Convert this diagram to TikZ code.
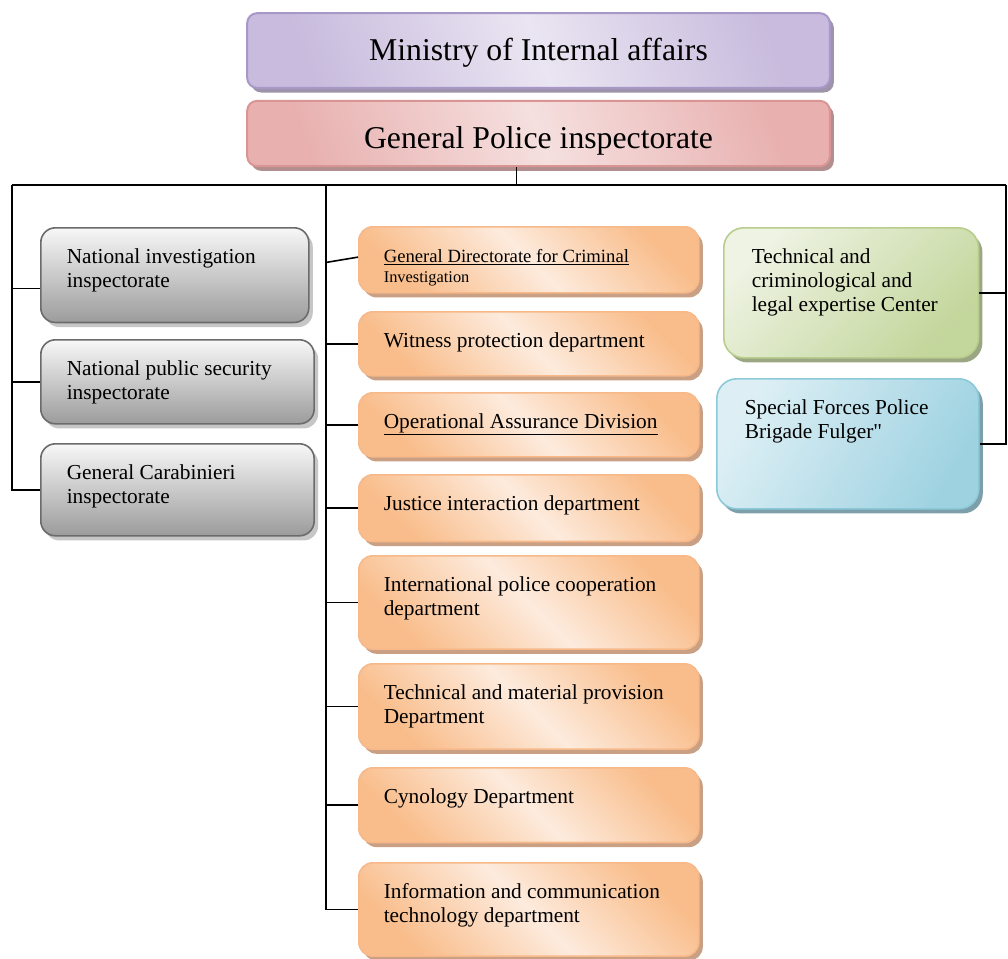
\documentclass[tikz,border=0pt]{standalone}
\usepackage{fontspec}
\setmainfont{Liberation Serif}
\usetikzlibrary{shadows}

\definecolor{orD}{HTML}{F9BD8B}
\definecolor{orL}{HTML}{FDEBDD}
\definecolor{orB}{HTML}{F7B98A}
\definecolor{orS}{HTML}{C9A084}
\definecolor{grB}{HTML}{6B6B6B}
\definecolor{grS}{HTML}{C6C6C6}
\definecolor{puD}{HTML}{C8BBDD}
\definecolor{puL}{HTML}{EAE5F2}
\definecolor{puB}{HTML}{A898C8}
\definecolor{puS}{HTML}{9D94AB}
\definecolor{reD}{HTML}{E8B1B0}
\definecolor{reL}{HTML}{F5E0DF}
\definecolor{reB}{HTML}{D99594}
\definecolor{reS}{HTML}{B38E8E}
\definecolor{gnD}{HTML}{C3D69B}
\definecolor{gnL}{HTML}{EEF3E3}
\definecolor{gnB}{HTML}{B9CD8D}
\definecolor{gnS}{HTML}{9BA683}
\definecolor{blD}{HTML}{9ED2E1}
\definecolor{blL}{HTML}{DDEFF5}
\definecolor{blB}{HTML}{8CC9D9}
\definecolor{blS}{HTML}{7C9FAA}

% text of a box: top aligned, width #1, height #2
\newcommand{\boxtext}[3]{\parbox[c][#2][t]{#1}{\raggedright\vspace*{14pt}\strut#3}}

\tikzset{
  unit/.style={draw, line width=1.2pt, inner ysep=0pt, anchor=north west,
    font=\fontsize{16}{18}\selectfont},
  head/.style={draw, line width=1.5pt, rounded corners=7.5pt, minimum width=437pt,
    inner ysep=2pt, text depth=5pt, font=\fontsize{23.8}{26}\selectfont},
  orangebox/.style={unit, rounded corners=10.5pt, inner xsep=18.75pt, draw=orB,
    left color=orD, right color=orD, middle color=orL, shading angle=135,
    drop shadow={shadow xshift=3pt, shadow yshift=-3.5pt, fill=orS, opacity=1}},
  greybox/.style={unit, rounded corners=11pt, inner xsep=19.5pt, draw=grB,
    top color=gray!6, bottom color=gray!78,
    drop shadow={shadow xshift=3pt, shadow yshift=-3.5pt, fill=grS, opacity=1}},
  greenbox/.style={unit, rounded corners=15pt, inner xsep=21pt, draw=gnB,
    left color=gnL, right color=gnD, shading angle=45,
    drop shadow={shadow xshift=3pt, shadow yshift=-3.5pt, fill=gnS, opacity=1}},
  bluebox/.style={unit, rounded corners=15pt, inner xsep=21pt, draw=blB,
    left color=blL, right color=blD, shading angle=60,
    drop shadow={shadow xshift=3pt, shadow yshift=-3.5pt, fill=blS, opacity=1}},
  conn/.style={line width=1.2pt, black}
}

\begin{document}
\begin{tikzpicture}[x=0.75pt, y=-0.75pt]
\useasboundingbox (0,0) rectangle (1008,958);

% top of the chart
\node[head, minimum height=56pt, text height=20.5pt, draw=puB, left color=puD, right color=puD,
  middle color=puL, shading angle=110,
  drop shadow={shadow xshift=3pt, shadow yshift=-3.5pt, fill=puS, opacity=1}]
  (ministry) at (538.5,50.5) {Ministry of Internal affairs};
\node[head, minimum height=49pt, text height=28pt, draw=reB, left color=reD, right color=reD,
  middle color=reL, shading angle=110,
  drop shadow={shadow xshift=3pt, shadow yshift=-3.5pt, fill=reS, opacity=1}]
  (police) at (538.5,133.5) {General Police inspectorate};

% left column
\node[greybox] (natinv) at (40,227) {\boxtext{162pt}{71pt}{National investigation\\ inspectorate}};
\node[greybox] (pubsec) at (40,339) {\boxtext{166pt}{63pt}{National public security\\ inspectorate}};
\node[greybox] (carab) at (40,443) {\boxtext{166pt}{69pt}{General Carabinieri\\ inspectorate}};

% middle column
\node[orangebox] (crim) at (358,226) {\boxtext{217.5pt}{49.5pt}{%
  \fontsize{14}{15}\selectfont\underline{General Directorate for Criminal}\\
  \fontsize{12.3}{15}\selectfont Investigation}};
\node[orangebox] (witness) at (358,311) {\boxtext{217.5pt}{48pt}{Witness protection department}};
\node[orangebox] (opas) at (358,392) {\boxtext{217.5pt}{48pt}{\underline{Operational Assurance Division}}};
\node[orangebox] (justice) at (358,474) {\boxtext{217.5pt}{50pt}{Justice interaction department}};
\node[orangebox] (intl) at (358,555) {\boxtext{217.5pt}{70pt}{International police cooperation\\ department}};
\node[orangebox] (techmat) at (358,663) {\boxtext{217.5pt}{64pt}{Technical and material provision\\ Department}};
\node[orangebox] (cyno) at (358,767) {\boxtext{217.5pt}{56pt}{Cynology Department}};
\node[orangebox] (ict) at (358,862) {\boxtext{217.5pt}{70pt}{Information and communication\\ technology department}};

% right column
\node[greenbox] (expert) at (723,227) {\boxtext{149pt}{97.5pt}{Technical and\\ criminological and\\ legal expertise Center}};
\node[bluebox] (fulger) at (716,378) {\boxtext{154.5pt}{97.5pt}{Special Forces Police\\ Brigade Fulger{\addfontfeatures{Ligatures=TeXOff}"}}};

% connectors
\coordinate (busL) at (12,185);
\coordinate (busM) at (326,185);
\coordinate (busR) at (1006,185);
\draw[conn] ([xshift=-16.5pt]police.south) -- ([xshift=-16.5pt]police.south |- busL);
\draw[conn] (busL) -- (busR);
\draw[conn] (busL) |- (carab.west);
\draw[conn] (busL |- pubsec.west) -- (pubsec.west);
\draw[conn] ([yshift=-10pt]busL |- natinv.west) -- ([yshift=-10pt]natinv.west);
\draw[conn] (busM) |- (ict.west);
\draw[conn] ([yshift=-2pt]busM |- crim.west) -- ([yshift=2pt]crim.west);
\foreach \n in {witness,opas,justice,intl,techmat,cyno}
  \draw[conn] (busM |- \n.west) -- (\n.west);
\draw[conn] (busR) |- (fulger.east);
\draw[conn] (busR |- expert.east) -- (expert.east);
\end{tikzpicture}
\end{document}
